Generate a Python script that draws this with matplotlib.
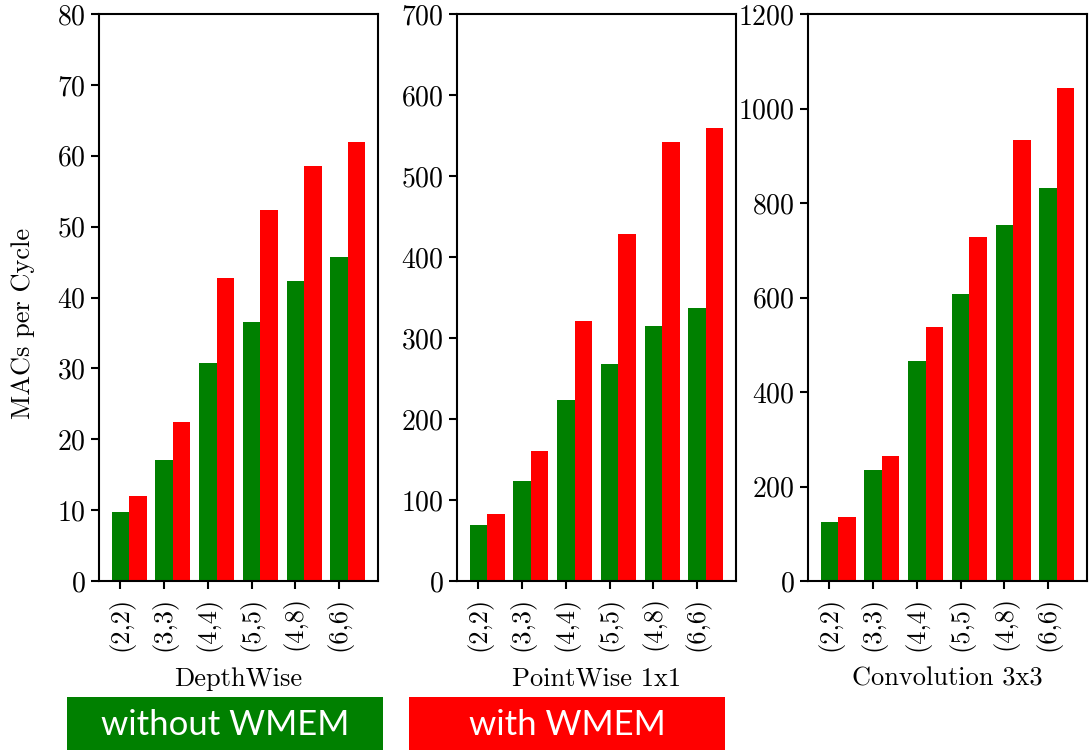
import numpy as np
import matplotlib
matplotlib.use("Agg")
import matplotlib.pyplot as plt
from matplotlib.patches import Rectangle

plt.rcParams["font.family"] = "serif"
plt.rcParams["font.serif"] = ["cmr10"]
plt.rcParams["mathtext.fontset"] = "cm"
plt.rcParams["axes.formatter.use_mathtext"] = True
plt.rcParams["axes.unicode_minus"] = False

configs = ["(2,2)", "(3,3)", "(4,4)", "(5,5)", "(4,8)", "(6,6)"]
titles = ["DepthWise", "PointWise 1x1", "Convolution 3x3"]
series_names = ["without WMEM", "with WMEM"]
colors = ["green", "red"]

depthwise_without = [9.7, 17.1, 30.8, 36.5, 42.4, 45.7]
depthwise_with = [12.0, 22.4, 42.7, 52.3, 58.5, 61.9]
pointwise_without = [69, 123, 224, 268, 315, 337]
pointwise_with = [83, 160, 321, 428, 542, 559]
conv_without = [125, 236, 466, 607, 753, 832]
conv_with = [135, 264, 537, 728, 933, 1043]

ylims = [80, 700, 1200]
ysteps = [10, 100, 200]

panels = [
    (depthwise_without, depthwise_with),
    (pointwise_without, pointwise_with),
    (conv_without, conv_with),
]

fig = plt.figure(figsize=(10.89, 7.5), dpi=100)
lefts = [0.0909, 0.4197, 0.742]
x = np.arange(len(configs))
w = 0.4

for i, (without, with_) in enumerate(panels):
    ax = fig.add_axes([lefts[i], 0.2253, 0.2562, 0.756])
    ax.bar(x, without, width=w, color=colors[0])
    ax.bar(x + w, with_, width=w, color=colors[1])
    ax.set_ylim(0, ylims[i])
    ax.set_yticks(np.arange(0, ylims[i] + 1, ysteps[i]))
    ax.set_xticks(x)
    ax.set_xticklabels(configs, rotation=90)
    ax.set_xlabel(titles[i], fontsize=19, labelpad=12)
    ax.tick_params(direction="out", length=6, width=1.5, labelsize=20)
    ax.tick_params(axis="x", labelsize=19, pad=5)
    for s in ax.spines.values():
        s.set_linewidth(1.5)
    if i == 0:
        ax.set_ylabel("MACs per Cycle", fontsize=19)
        ax.yaxis.set_label_coords(-0.23, 0.455)

# legend boxes along the bottom
box_x = [0.0615, 0.3756]
for bx, name, c in zip(box_x, series_names, colors):
    fig.patches.append(Rectangle((bx, 0.0), 0.290, 0.0707, transform=fig.transFigure,
                                 facecolor=c, edgecolor="none"))
    fig.text(bx + 0.145, 0.033, name, color="white", fontsize=25,
             family="Lato", ha="center", va="center")

fig.savefig("out.png", dpi=100)
